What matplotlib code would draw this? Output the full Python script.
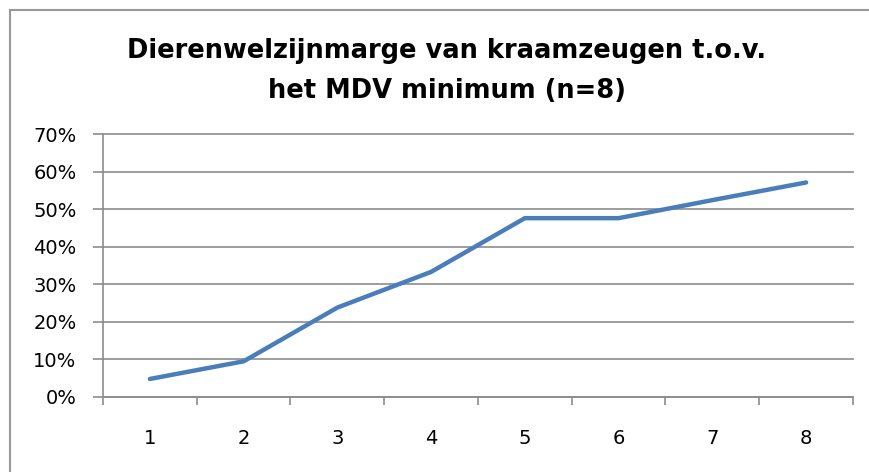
import matplotlib
matplotlib.use("Agg")
import matplotlib.pyplot as plt
from matplotlib.lines import Line2D
from matplotlib.ticker import PercentFormatter, FixedLocator

# data
categories = [1, 2, 3, 4, 5, 6, 7, 8]
marge = [0.048, 0.095, 0.238, 0.333, 0.476, 0.476, 0.524, 0.571]
yticks = [0, 0.1, 0.2, 0.3, 0.4, 0.5, 0.6, 0.7]

title = "Dierenwelzijnmarge van kraamzeugen t.o.v.\nhet MDV minimum (n=8)"

W, H = 870, 472
fig = plt.figure(figsize=(W / 100, H / 100), dpi=100)

# outer chart frame: only left and top edges are visible in the screenshot
fig.add_artist(Line2D([10 / W, 10 / W, 1.0], [0.0, 1 - 10 / H, 1 - 10 / H],
                      transform=fig.transFigure, color="#999999",
                      linewidth=1.5, solid_joinstyle="miter"))

ax = fig.add_axes([103 / W, 1 - 397 / H, (853 - 103) / W, (397 - 134) / H])
ax.plot(categories, marge, color="#4a7ebb", linewidth=3.2,
        solid_capstyle="round", solid_joinstyle="miter")

ax.set_xlim(0.5, 8.5)
ax.set_ylim(0, 0.7)
ax.set_yticks(yticks)
ax.yaxis.set_major_formatter(PercentFormatter(1.0, decimals=0))
ax.set_xticks(categories)
ax.xaxis.set_minor_locator(FixedLocator([c + 0.5 for c in [0] + categories]))
ax.tick_params(axis="x", which="major", length=0, pad=23, labelsize=14)
ax.tick_params(axis="x", which="minor", length=6, color="#8c8c8c", width=1.2)
ax.tick_params(axis="y", length=7, color="#8c8c8c", width=1.2, labelsize=14, pad=12)

ax.grid(axis="y", color="#8c8c8c", linewidth=1.2)
for gl in ax.get_ygridlines():
    gl.set_clip_on(False)
ax.set_axisbelow(True)
for s in ["top", "right"]:
    ax.spines[s].set_visible(False)
for s in ["left", "bottom"]:
    ax.spines[s].set_color("#8c8c8c")
    ax.spines[s].set_linewidth(1.2)

fig.text(447 / W, 1 - 71 / H, title, ha="center", va="center",
         fontsize=18.5, fontweight="bold", linespacing=1.7)

fig.savefig("out.png", dpi=100)
